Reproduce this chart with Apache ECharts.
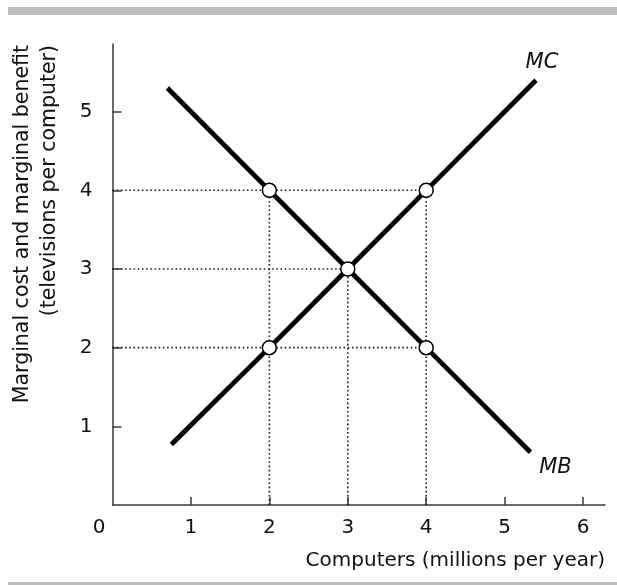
<!DOCTYPE html>
<html><head><meta charset="utf-8">
<script src="https://cdn.jsdelivr.net/npm/echarts@6/dist/echarts.min.js"></script>
<style>html,body{margin:0;padding:0;background:#fff}#c{width:617px;height:585px}</style>
</head><body><div id="c"></div>
<script>
// ---- data ----
const xTickValues = [1, 2, 3, 4, 5, 6];
const xLabelValues = [0, 1, 2, 3, 4, 5, 6];
const yTickValues = [1, 2, 3, 4, 5];
const mcCurve = [[0.75, 0.77], [2, 2], [3, 3], [4, 4], [5.4, 5.4]];
const mbCurve = [[0.7, 5.3], [2, 4], [3, 3], [4, 2], [5.33, 0.67]];
const openPoints = [[2, 4], [4, 4], [3, 3], [2, 2], [4, 2]];
const hGuides = [[4, 4], [3, 3], [2, 4]]; // [y value, x end]
const vGuides = [[2, 4], [3, 3], [4, 4]]; // [x value, y end]
const curveNames = ['MC', 'MB'];
const xAxisTitle = 'Computers (millions per year)';
const yAxisTitle = 'Marginal cost and marginal benefit\n(televisions per computer)';

const FONT = 'DejaVu Sans';
const AXIS_COLOR = '#3a3a3a';

const guideStyle = { color: '#1a1a1a', width: 1.6, type: [1.6, 2.6] };
const series = [];
hGuides.forEach(g => series.push({
  type: 'line', data: [[0, g[0]], [g[1], g[0]]], showSymbol: false, silent: true,
  lineStyle: guideStyle, z: 1, animation: false
}));
vGuides.forEach(g => series.push({
  type: 'line', data: [[g[0], 0], [g[0], g[1]]], showSymbol: false, silent: true,
  lineStyle: guideStyle, z: 1, animation: false
}));
const curveLabel = (name, off) => ({
  symbol: 'circle', symbolSize: 0, silent: true,
  label: { show: true, position: 'inside', formatter: name, offset: off,
    fontFamily: FONT, fontStyle: 'italic', fontSize: 21, color: '#111' }
});
series.push({
  name: curveNames[0], type: 'line', data: mcCurve, showSymbol: false, z: 3,
  lineStyle: { color: '#000', width: 4.8, cap: 'butt' }, animation: false,
  markPoint: Object.assign(curveLabel(curveNames[0], [6, -18]),
    { data: [{ coord: mcCurve[mcCurve.length - 1] }] })
});
series.push({
  name: curveNames[1], type: 'line', data: mbCurve, showSymbol: false, z: 3,
  lineStyle: { color: '#000', width: 4.8, cap: 'butt' }, animation: false,
  markPoint: Object.assign(curveLabel(curveNames[1], [25, 15]),
    { data: [{ coord: mbCurve[mbCurve.length - 1] }] })
});
series.push({
  type: 'scatter', data: openPoints, symbol: 'circle', symbolSize: 14, z: 5,
  itemStyle: { color: '#fff', borderColor: '#000', borderWidth: 1.5, opacity: 1 },
  animation: false
});

const chart = echarts.init(document.getElementById('c'), null, { renderer: 'canvas' });
chart.setOption({
  backgroundColor: '#fff',
  animation: false,
  graphic: [
    { type: 'rect', shape: { x: 8, y: 7, width: 609, height: 8 }, style: { fill: '#bdbdbd' } },
    { type: 'rect', shape: { x: 8, y: 582, width: 609, height: 4 }, style: { fill: '#bdbdbd' } },
    { type: 'text', x: 36, y: 45, rotation: Math.PI / 2,
      style: { text: yAxisTitle, fontFamily: FONT, fontSize: 20.5, lineHeight: 27, fill: '#111',
        align: 'right', verticalAlign: 'middle' } }
  ],
  grid: { left: 112.5, right: 12, top: 44, bottom: 80, containLabel: false, outerBoundsMode: 'none' },
  xAxis: {
    type: 'value', min: 0, max: 6.28, interval: 1,
    name: xAxisTitle, nameLocation: 'end', nameGap: 0,
    nameTextStyle: { fontFamily: FONT, fontSize: 20, color: '#111', align: 'right', verticalAlign: 'top', padding: [46, 0, 0, 0] },
    axisLine: { show: true, lineStyle: { color: AXIS_COLOR, width: 1.5 } },
    axisTick: { show: true, inside: true, length: 8, customValues: xTickValues, lineStyle: { color: AXIS_COLOR, width: 1.5 } },
    axisLabel: {
      customValues: xLabelValues, margin: 13, fontFamily: FONT, fontSize: 20, color: '#111',
      formatter: v => (v === 0 ? '{z|0}' : String(v)),
      rich: { z: { fontFamily: FONT, fontSize: 20, color: '#111', padding: [0, 27, 0, 0] } }
    },
    splitLine: { show: false }
  },
  yAxis: {
    type: 'value', min: 0, max: 5.86, interval: 1,
    axisLine: { show: true, lineStyle: { color: AXIS_COLOR, width: 1.5 } },
    axisTick: { show: true, inside: true, length: 9, customValues: yTickValues, lineStyle: { color: AXIS_COLOR, width: 1.5 } },
    axisLabel: { customValues: yTickValues, margin: 20, fontFamily: FONT, fontSize: 20, color: '#111' },
    splitLine: { show: false }
  },
  series: series
});
</script>
</body></html>
